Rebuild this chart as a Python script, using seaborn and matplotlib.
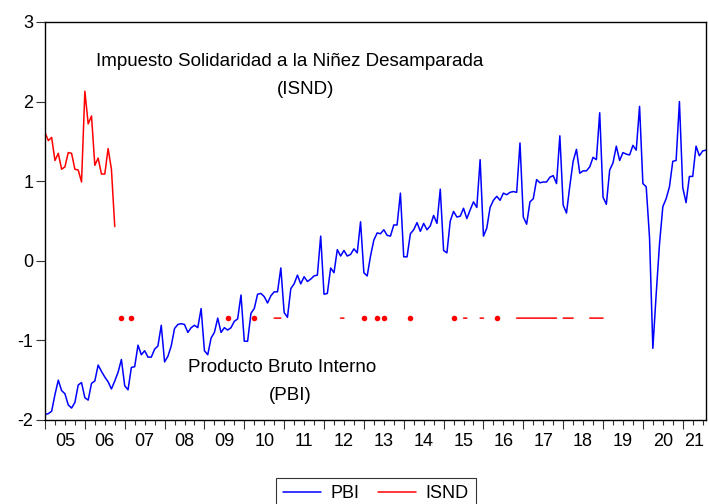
import matplotlib
matplotlib.use("Agg")
import matplotlib.pyplot as plt
from matplotlib.ticker import FixedLocator, NullFormatter
import numpy as np
import pandas as pd
import seaborn as sns

# ── Data (monthly, 2005m01 .. 2021m08, standardised) ─────────────────────────

start_year = 2005
year_labels = ["05", "06", "07", "08", "09", "10", "11", "12", "13",
               "14", "15", "16", "17", "18", "19", "20", "21"]

pbi = [
    -1.93, -1.92, -1.89, -1.68, -1.50, -1.63, -1.67, -1.81, -1.85, -1.78, -1.56, -1.53,  # 2005
    -1.72, -1.75, -1.54, -1.51, -1.31, -1.39, -1.46, -1.52, -1.61, -1.51, -1.40, -1.24,  # 2006
    -1.57, -1.62, -1.34, -1.33, -1.06, -1.18, -1.13, -1.21, -1.21, -1.11, -1.07, -0.81,  # 2007
    -1.27, -1.20, -1.07, -0.85, -0.80, -0.79, -0.80, -0.90, -0.84, -0.81, -0.84, -0.60,  # 2008
    -1.13, -1.18, -0.97, -0.90, -0.72, -0.90, -0.84, -0.87, -0.84, -0.76, -0.73, -0.43,  # 2009
    -1.01, -1.01, -0.66, -0.60, -0.42, -0.41, -0.45, -0.53, -0.44, -0.39, -0.39, -0.09,  # 2010
    -0.65, -0.71, -0.35, -0.29, -0.18, -0.29, -0.20, -0.26, -0.23, -0.19, -0.18, 0.31,   # 2011
    -0.42, -0.41, -0.09, -0.15, 0.14, 0.06, 0.13, 0.06, 0.08, 0.15, 0.10, 0.49,          # 2012
    -0.15, -0.19, 0.06, 0.26, 0.35, 0.34, 0.39, 0.32, 0.31, 0.45, 0.45, 0.85,            # 2013
    0.05, 0.05, 0.34, 0.39, 0.48, 0.37, 0.47, 0.39, 0.44, 0.57, 0.47, 0.90,              # 2014
    0.13, 0.10, 0.50, 0.62, 0.55, 0.56, 0.66, 0.53, 0.64, 0.74, 0.67, 1.27,              # 2015
    0.31, 0.41, 0.67, 0.76, 0.81, 0.76, 0.85, 0.83, 0.86, 0.87, 0.86, 1.48,              # 2016
    0.55, 0.46, 0.74, 0.78, 1.02, 0.98, 0.99, 0.99, 1.05, 1.07, 0.97, 1.57,              # 2017
    0.70, 0.60, 0.94, 1.25, 1.40, 1.10, 1.13, 1.13, 1.18, 1.30, 1.27, 1.86,              # 2018
    0.80, 0.71, 1.14, 1.23, 1.44, 1.26, 1.36, 1.34, 1.33, 1.45, 1.39, 1.94,              # 2019
    0.97, 0.93, 0.29, -1.10, -0.42, 0.21, 0.68, 0.78, 0.93, 1.25, 1.26, 2.00,            # 2020
    0.92, 0.73, 1.06, 1.06, 1.44, 1.32, 1.38, 1.39,                                      # 2021
]

# ISND: continuous stretch at the start, then scattered months at a constant level
isnd_early = [1.61, 1.51, 1.55, 1.26, 1.35, 1.15, 1.18, 1.36, 1.35, 1.15, 1.14, 0.99,
              2.13, 1.72, 1.82, 1.20, 1.29, 1.09, 1.09, 1.41, 1.15, 0.43]
isnd_late_months = [23, 26, 55, 63, 69, 70, 71, 89, 90, 96, 100, 102, 110, 123, 126, 127,
                    131, 132, 136] + list(range(142, 155)) + list(range(156, 160)) \
                   + list(range(164, 169))
isnd_late_value = -0.72

# ── Build frame ──────────────────────────────────────────────────────────────

n = len(pbi)
isnd = np.full(n, np.nan)
isnd[:len(isnd_early)] = isnd_early
isnd[isnd_late_months] = isnd_late_value

df = pd.DataFrame({"t": start_year + np.arange(n) / 12.0, "PBI": pbi, "ISND": isnd})
t_end = df["t"].iloc[-1]

# isolated observations (no neighbour on either side) are drawn as dots
valid = ~np.isnan(isnd)
prev_ok = np.r_[False, valid[:-1]]
next_ok = np.r_[valid[1:], False]
lonely = valid & ~prev_ok & ~next_ok

# ── Plot ─────────────────────────────────────────────────────────────────────

sns.set_style("ticks")
plt.rcParams["font.family"] = ["Liberation Sans", "DejaVu Sans"]
plt.rcParams["axes.unicode_minus"] = False
plt.rcParams["text.color"] = "black"
plt.rcParams["xtick.color"] = "black"
plt.rcParams["ytick.color"] = "black"

fig = plt.figure(figsize=(7.09, 5.04), dpi=100)
ax = fig.add_axes([45 / 709, 1 - 420 / 504, 661 / 709, 398 / 504])

sns.lineplot(data=df, x="t", y="PBI", color="#0000ff", lw=1.1, ax=ax)
ax.plot(df["t"], df["ISND"], color="#ff0000", lw=1.1)
ax.scatter(df["t"][lonely], df["ISND"][lonely], color="#ff0000", s=16, linewidths=0, zorder=3)
if ax.get_legend() is not None:
    ax.get_legend().remove()

ax.set_xlim(df["t"].iloc[0], t_end)
ax.set_ylim(-2, 3)
ax.set_yticks(range(-2, 4))
ax.set_xlabel("")
ax.set_ylabel("")

years = np.arange(start_year, start_year + len(year_labels))
quarters = [y + q / 4 for y in years for q in (1, 2, 3) if y + q / 4 <= t_end]
ax.xaxis.set_major_locator(FixedLocator(years))
ax.xaxis.set_major_formatter(NullFormatter())
ax.xaxis.set_minor_locator(FixedLocator(quarters))
ax.tick_params(axis="x", which="major", direction="out", length=6.5, width=0.8, color="#333333")
ax.tick_params(axis="x", which="minor", direction="out", length=3.5, width=0.8, color="#333333")
ax.tick_params(axis="y", direction="out", length=6.5, width=0.8, color="#333333",
               labelsize=13, pad=2, labelcolor="black")

# year labels centred on the visible part of each year
label_pos = [(y + min(y + 1, t_end)) / 2 for y in years]
sec = ax.secondary_xaxis("bottom")
sec.set_xticks(label_pos)
sec.set_xticklabels(year_labels)
sec.tick_params(length=0, labelsize=13, pad=9, labelcolor="black")
sec.spines["bottom"].set_visible(False)

for side in ("top", "right", "left", "bottom"):
    ax.spines[side].set_visible(True)
    ax.spines[side].set_linewidth(1.0)
    ax.spines[side].set_color("black")

fig.text(290 / 709, 1 - 62 / 504, "Impuesto Solidaridad a la Niñez Desamparada",
         ha="center", va="center", fontsize=13.5)
fig.text(306 / 709, 1 - 89 / 504, "(ISND)", ha="center", va="center", fontsize=13.5)
fig.text(282 / 709, 1 - 367 / 504, "Producto Bruto Interno", ha="center", va="center", fontsize=13.5)
fig.text(290 / 709, 1 - 395 / 504, "(PBI)", ha="center", va="center", fontsize=13.5)

handles = [plt.Line2D([], [], color="#0000ff", lw=1.1), plt.Line2D([], [], color="#ff0000", lw=1.1)]
leg = fig.legend(handles, ["PBI", "ISND"], loc="upper center", bbox_to_anchor=(376 / 709, 1 - 478 / 504),
                 ncol=2, fontsize=13, frameon=True, fancybox=False, handlelength=2.1,
                 handletextpad=0.55, columnspacing=1.0, borderpad=0.4, borderaxespad=0)
leg.get_frame().set_edgecolor("black")
leg.get_frame().set_linewidth(0.8)

fig.savefig("out.png", dpi=100)
